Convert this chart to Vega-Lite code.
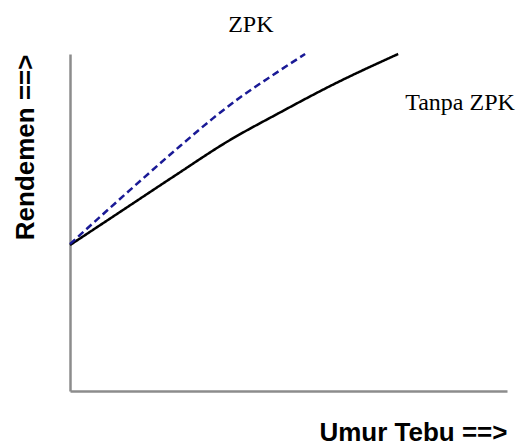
{
  "$schema": "https://vega.github.io/schema/vega-lite/v6.json",
  "width": 437,
  "height": 337,
  "autosize": "none",
  "padding": {"left": 70, "top": 54, "right": 12, "bottom": 55},
  "background": "white",
  "config": {"view": {"stroke": null}},
  "datasets": {
    "curves": [
      {"seri": "Tanpa ZPK", "umur": 0, "rendemen": 43.3},
      {"seri": "Tanpa ZPK", "umur": 12, "rendemen": 53.6},
      {"seri": "Tanpa ZPK", "umur": 24, "rendemen": 63.9},
      {"seri": "Tanpa ZPK", "umur": 36, "rendemen": 74.0},
      {"seri": "Tanpa ZPK", "umur": 48, "rendemen": 82.6},
      {"seri": "Tanpa ZPK", "umur": 60, "rendemen": 90.8},
      {"seri": "Tanpa ZPK", "umur": 75.1, "rendemen": 100},
      {"seri": "ZPK", "umur": 0, "rendemen": 43.6},
      {"seri": "ZPK", "umur": 13.7, "rendemen": 59.6},
      {"seri": "ZPK", "umur": 25.2, "rendemen": 72.7},
      {"seri": "ZPK", "umur": 32.7, "rendemen": 80.9},
      {"seri": "ZPK", "umur": 38.9, "rendemen": 87.1},
      {"seri": "ZPK", "umur": 45.1, "rendemen": 92.6},
      {"seri": "ZPK", "umur": 53.8, "rendemen": 100}
    ],
    "labels": [
      {"label": "ZPK", "umur": 36.2, "rendemen": 106.5},
      {"label": "Tanpa ZPK", "umur": 76.7, "rendemen": 83.4}
    ]
  },
  "layer": [
    {
      "data": {"name": "curves"},
      "mark": {"type": "line", "interpolate": "monotone", "strokeWidth": 2.5},
      "encoding": {
        "x": {
          "field": "umur", "type": "quantitative",
          "scale": {"domain": [0, 100], "nice": false, "zero": false},
          "axis": {
            "domain": true, "domainColor": "#8c8c8c", "domainWidth": 2.5,
            "ticks": false, "labels": false, "grid": false,
            "title": "Umur Tebu ==>", "titleFont": "Liberation Sans", "titleFontSize": 26,
            "titleFontWeight": "bold", "titleColor": "#000000",
            "titleAnchor": "end", "titleBaseline": "alphabetic", "titleY": 49
          }
        },
        "y": {
          "field": "rendemen", "type": "quantitative",
          "scale": {"domain": [0, 100], "nice": false, "zero": false},
          "axis": {
            "domain": true, "domainColor": "#8c8c8c", "domainWidth": 2.5,
            "ticks": false, "labels": false, "grid": false,
            "title": "Rendemen ==>", "titleFont": "Liberation Sans", "titleFontSize": 26,
            "titleFontWeight": "bold", "titleColor": "#000000",
            "titleAnchor": "end", "titleBaseline": "alphabetic", "titleX": -37
          }
        },
        "color": {
          "field": "seri", "type": "nominal",
          "scale": {"domain": ["ZPK", "Tanpa ZPK"], "range": ["#1a1a96", "#000000"]},
          "legend": null
        },
        "strokeDash": {
          "field": "seri", "type": "nominal",
          "scale": {"domain": ["ZPK", "Tanpa ZPK"], "range": [[7, 4], [1, 0]]},
          "legend": null
        }
      }
    },
    {
      "data": {"name": "labels"},
      "mark": {"type": "text", "font": "Liberation Serif", "fontSize": 24, "align": "left", "baseline": "alphabetic", "color": "#000000"},
      "encoding": {
        "x": {"field": "umur", "type": "quantitative"},
        "y": {"field": "rendemen", "type": "quantitative"},
        "text": {"field": "label", "type": "nominal"}
      }
    }
  ]
}
